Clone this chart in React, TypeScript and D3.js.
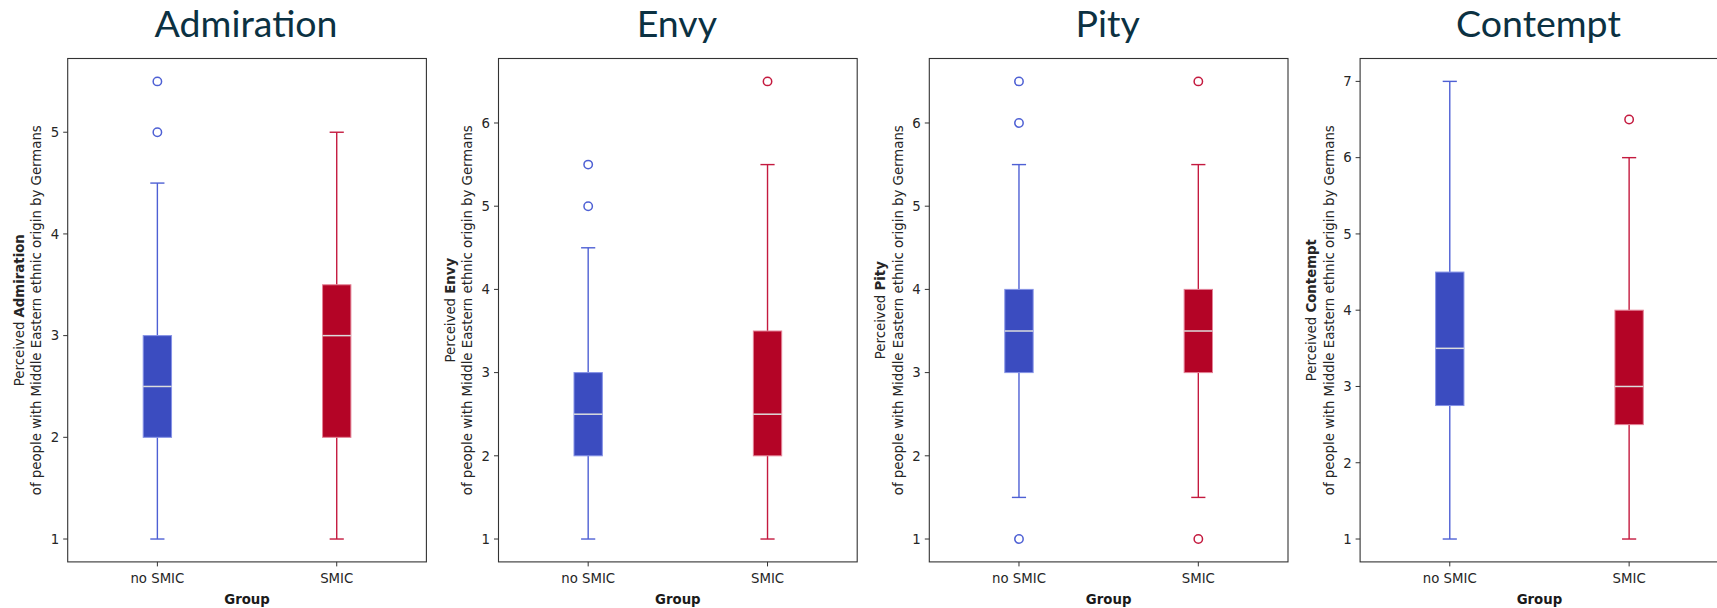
import React from 'react';
import * as d3 from 'd3';

// emotion panels, left to right
const emotions = ['Admiration', 'Envy', 'Pity', 'Contempt'];
const groups = ['no SMIC', 'SMIC'];

// [lower whisker, q1, median, q3, upper whisker] per group
const admirationStats = [[1, 2, 2.5, 3, 4.5], [1, 2, 3, 3.5, 5]];
const envyStats = [[1, 2, 2.5, 3, 4.5], [1, 2, 2.5, 3.5, 5.5]];
const pityStats = [[1.5, 3, 3.5, 4, 5.5], [1.5, 3, 3.5, 4, 5.5]];
const contemptStats = [[1, 2.75, 3.5, 4.5, 7], [1, 2.5, 3, 4, 6]];

// outliers per group
const admirationFliers = [[5, 5.5], []];
const envyFliers = [[5, 5.5], [6.5]];
const pityFliers = [[1, 6, 6.5], [1, 6.5]];
const contemptFliers = [[], [6.5]];

// y tick labels per panel
const admirationTicks = [1, 2, 3, 4, 5];
const envyTicks = [1, 2, 3, 4, 5, 6];
const pityTicks = [1, 2, 3, 4, 5, 6];
const contemptTicks = [1, 2, 3, 4, 5, 6, 7];

const allStats = [admirationStats, envyStats, pityStats, contemptStats];
const allFliers = [admirationFliers, envyFliers, pityFliers, contemptFliers];
const allTicks = [admirationTicks, envyTicks, pityTicks, contemptTicks];

const fills = ['#3b4cc0', '#b40426'];
const lines = ['#4e60d4', '#c41a3f'];
const edges = ['#8592e6', '#e48296'];

const W = 1717;
const H = 608;
const panelStep = 430.8;
const frameLeft = 67.7;
const frameW = 358.7;
const frameTop = 58.5;
const frameBottom = 561.9;
const font = "'DejaVu Sans', sans-serif";

function Panel({ idx }: { idx: number }) {
  const name = emotions[idx];
  const stats = allStats[idx];
  const fliers = allFliers[idx];
  const ticks = allTicks[idx];

  const left = frameLeft + idx * panelStep;
  const values = stats.flat().concat(fliers.flat());
  const [lo, hi] = d3.extent(values) as [number, number];
  const pad = (hi - lo) * 0.05;

  const y = d3
    .scaleLinear()
    .domain([lo - pad, hi + pad])
    .range([frameBottom, frameTop]);
  const x = d3
    .scalePoint()
    .domain(groups)
    .range([0, frameW])
    .padding(0.5);

  const boxW = x.step() * 0.158;
  const capW = boxW / 2;
  const midY = (frameTop + frameBottom) / 2;

  return (
    <g>
      <text
        x={left + frameW / 2 - 1}
        y={36.7}
        textAnchor="middle"
        fontFamily="Lato, 'Open Sans', sans-serif"
        fontSize={37.5}
        fill="#0b3142"
      >
        {name}
      </text>

      <g transform={`translate(${left},0)`}>
        {stats.map((s, g) => {
          const cx = x(groups[g]) as number;
          return (
            <g key={g}>
              <line x1={cx} x2={cx} y1={y(s[0])} y2={y(s[1])} stroke={lines[g]} strokeWidth={1.4} />
              <line x1={cx} x2={cx} y1={y(s[3])} y2={y(s[4])} stroke={lines[g]} strokeWidth={1.4} />
              <line x1={cx - capW / 2} x2={cx + capW / 2} y1={y(s[0])} y2={y(s[0])} stroke={lines[g]} strokeWidth={1.4} />
              <line x1={cx - capW / 2} x2={cx + capW / 2} y1={y(s[4])} y2={y(s[4])} stroke={lines[g]} strokeWidth={1.4} />
              <rect
                x={cx - boxW / 2}
                y={y(s[3])}
                width={boxW}
                height={y(s[1]) - y(s[3])}
                fill={fills[g]}
                stroke={edges[g]}
                strokeWidth={1}
              />
              <line x1={cx - boxW / 2} x2={cx + boxW / 2} y1={y(s[2])} y2={y(s[2])} stroke="#dcdcdc" strokeWidth={1.5} />
              {fliers[g].map((f, k) => (
                <circle key={k} cx={cx} cy={y(f)} r={4.2} fill="none" stroke={lines[g]} strokeWidth={1.5} />
              ))}
            </g>
          );
        })}

        <rect
          x={0}
          y={frameTop}
          width={frameW}
          height={frameBottom - frameTop}
          fill="none"
          stroke="#333"
          strokeWidth={1.1}
        />

        {ticks.map(t => (
          <g key={t} transform={`translate(0,${y(t)})`}>
            <line x1={-4.5} x2={0} stroke="#333" strokeWidth={1} />
            <text x={-8.5} dy="0.36em" textAnchor="end" fontFamily={font} fontSize={13.3} fill="#262626">
              {t}
            </text>
          </g>
        ))}

        {groups.map(gname => (
          <g key={gname} transform={`translate(${x(gname)},${frameBottom})`}>
            <line y1={0} y2={4.5} stroke="#333" strokeWidth={1} />
            <text y={21.5} textAnchor="middle" fontFamily={font} fontSize={13.3} fill="#262626">
              {gname}
            </text>
          </g>
        ))}

        <text
          x={frameW / 2}
          y={604}
          textAnchor="middle"
          fontFamily={font}
          fontSize={13.3}
          fontWeight="bold"
          fill="#1a1a1a"
        >
          Group
        </text>

        <g transform={`translate(-44,${midY}) rotate(-90)`}>
          <text textAnchor="middle" fontFamily={font} fontSize={13.3} fill="#262626">
            Perceived <tspan fontWeight="bold">{name}</tspan>
          </text>
          <text y={17.7} textAnchor="middle" fontFamily={font} fontSize={13.3} fill="#262626">
            of people with Middle Eastern ethnic origin by Germans
          </text>
        </g>
      </g>
    </g>
  );
}

export default function App() {
  return (
    <svg
      width={W}
      height={H}
      style={{ position: 'absolute', left: 0, top: 0, background: '#fff' }}
    >
      <rect width={W} height={H} fill="#fff" />
      {emotions.map((e, i) => (
        <Panel key={e} idx={i} />
      ))}
    </svg>
  );
}
